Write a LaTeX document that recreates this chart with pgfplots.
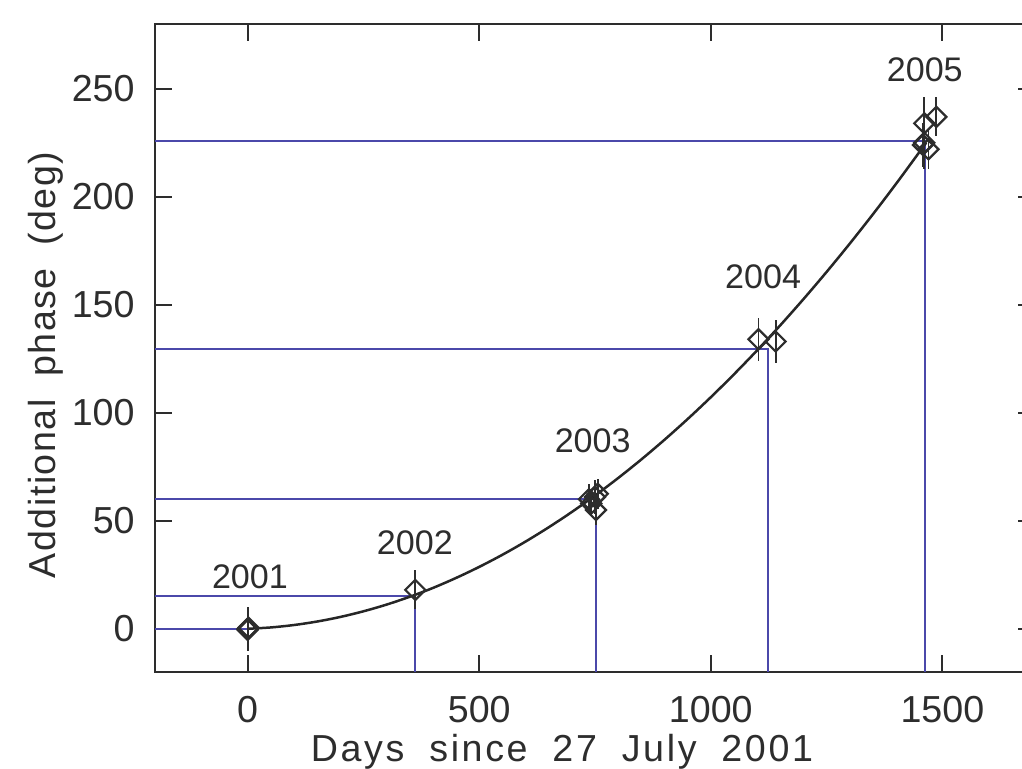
\documentclass[border=0pt]{standalone}
\usepackage{fontspec}
\setmainfont{Liberation Sans}
\newfontfamily\labfont{Liberation Sans}[LetterSpace=7, WordSpace=1.9]
\newfontfamily\ylabfont{Liberation Sans}[LetterSpace=4, WordSpace=1.9]
\usepackage{pgfplots}
\pgfplotsset{compat=1.18}
\definecolor{bl}{RGB}{75,72,170}
\definecolor{ink}{RGB}{45,45,45}
\begin{document}
\begin{tikzpicture}
\begin{axis}[name=ax, scale only axis, width=88mm, height=64.8mm,
  xmin=-200, xmax=1700, ymin=-20, ymax=280,
  xtick={0,500,1000,1500}, ytick={0,50,...,250},
  tick align=inside, major tick length=1.7mm, minor tick num=0,
  axis line style={ink, line width=0.2mm}, tick style={ink, line width=0.18mm},
  /pgf/number format/assume math mode=true,
  /pgf/number format/1000 sep={},
  ticklabel style={font=\fontsize{10.7}{12}\selectfont, text=ink},
  yticklabel style={xshift=-0.8mm}, xticklabel style={yshift=-1.2mm},
  xlabel={Days since 27 July 2001}, ylabel={Additional phase (deg)},
  every axis x label/.style={at={(axis description cs:0.4625,0)}, anchor=base, yshift=-9.0mm,
     font=\labfont\fontsize{10.7}{12}\selectfont, text=ink},
  every axis y label/.style={at={(axis description cs:-0.1136,0.474)}, rotate=90, anchor=base,
     font=\ylabfont\fontsize{10.7}{12}\selectfont, text=ink},
  clip=false]
% blue guide lines
\addplot[bl, line width=0.2mm] coordinates {(-200,0) (0,0)};
\addplot[bl, line width=0.2mm] coordinates {(-200,15) (362,15) (362,-20)};
\addplot[bl, line width=0.2mm] coordinates {(-200,60) (752,60) (752,-20)};
\addplot[bl, line width=0.2mm] coordinates {(-200,129.5) (1123,129.5) (1123,-20)};
\addplot[bl, line width=0.2mm] coordinates {(-200,226) (1463,226) (1463,-20)};
% fitted curve
\addplot[black!85, line width=0.25mm, smooth] coordinates {
(0,0) (50,0.62) (100,1.74) (150,3.36) (200,5.47) (250,8.09) (300,11.2) (350,14.82)
(400,18.9) (450,23.54) (500,28.65) (550,34.26) (600,40.37) (650,46.98) (700,54.08)
(750,61.69) (800,69.79) (850,78.39) (900,87.5) (950,97.1) (1000,107.2) (1050,117.8)
(1100,128.9) (1150,140.5) (1200,152.6) (1250,165.2) (1300,178.3) (1350,191.9)
(1400,206) (1450,220.6) (1465,225)};
% measurements
\addplot[only marks, mark=square, mark size=0.71mm, ink, line width=0.22mm,
  mark options={rotate=45},
  error bars/.cd, y dir=both, y explicit, error mark=none,
  error bar style={ink, line width=0.18mm}]
  table[x=x, y=y, y error=e] {
x y e
0 0 10
0 -0.5 10
2 0.5 8
362 18 9
737 60 7
756 62.5 7
752 55 7
742 58 6
750 61 8
1103 134 10
1140 133 10
1461 234 12
1487 237 9
1461 225 12
1470 222 9
1458 224 10
};
\node[font=\fontsize{9.7}{11}\selectfont, text=ink] at (axis cs:5,24) {2001};
\node[font=\fontsize{9.7}{11}\selectfont, text=ink] at (axis cs:361,40) {2002};
\node[font=\fontsize{9.7}{11}\selectfont, text=ink] at (axis cs:745,87) {2003};
\node[font=\fontsize{9.7}{11}\selectfont, text=ink] at (axis cs:1113,163) {2004};
\node[font=\fontsize{9.7}{11}\selectfont, text=ink] at (axis cs:1462,259) {2005};
\end{axis}
\pgfresetboundingbox
\path[use as bounding box] ([xshift=-15.5mm, yshift=-9.7mm]ax.south west) rectangle ([xshift=-1.3mm, yshift=2.4mm]ax.north east);
\end{tikzpicture}
\end{document}
